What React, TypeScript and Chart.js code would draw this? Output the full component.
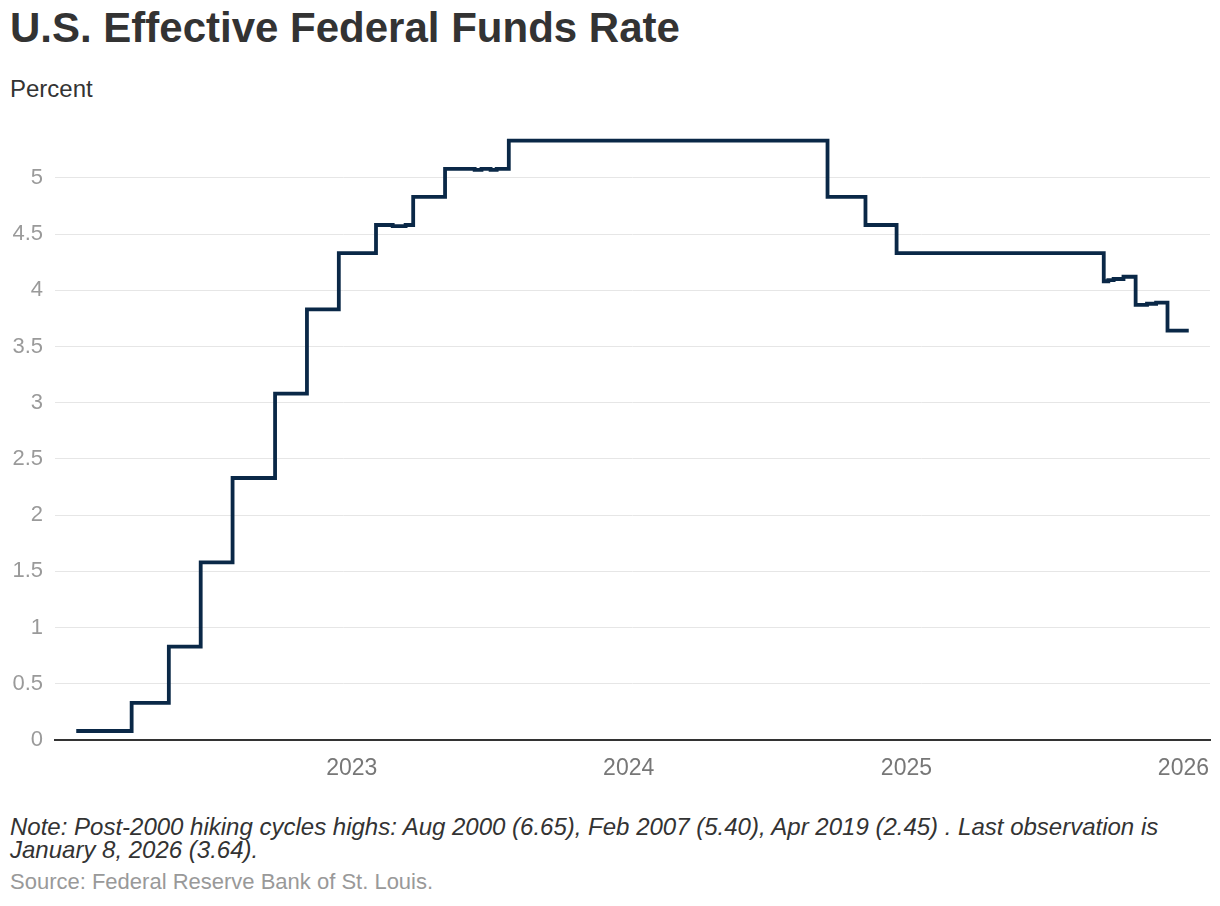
import React, { useEffect, useRef } from "react";
import { Chart, registerables } from "chart.js";

Chart.register(...registerables);

// Dates where the effective rate changed (value holds until next date)
const changeDates = [
  "2022-01-03", "2022-03-17", "2022-05-05", "2022-06-16", "2022-07-28",
  "2022-09-22", "2022-11-03", "2022-12-15", "2023-02-02", "2023-02-24",
  "2023-03-13", "2023-03-23", "2023-05-04", "2023-06-12", "2023-06-21",
  "2023-07-03", "2023-07-11", "2023-07-27", "2024-09-19", "2024-11-08",
  "2024-12-19", "2025-09-18", "2025-09-24", "2025-10-01", "2025-10-14",
  "2025-10-30", "2025-11-14", "2025-11-26", "2025-12-11", "2026-01-08",
];
const rateValues = [
  0.08, 0.33, 0.83, 1.58, 2.33,
  3.08, 3.83, 4.33, 4.58, 4.57,
  4.58, 4.83, 5.08, 5.07, 5.08,
  5.07, 5.08, 5.33, 4.83, 4.58,
  4.33, 4.08, 4.09, 4.1, 4.12,
  3.87, 3.88, 3.89, 3.64, 3.64,
];
const yearTickLabels = ["2023", "2024", "2025", "2026"];
const yTickValues = [0, 0.5, 1, 1.5, 2, 2.5, 3, 3.5, 4, 4.5, 5];

const X_MIN = Date.parse("2021-12-06");
const X_MAX = Date.parse("2026-02-05");
const FONT = "'Liberation Sans', Arial, Helvetica, sans-serif";

export default function App() {
  const canvasRef = useRef<HTMLCanvasElement | null>(null);

  useEffect(() => {
    if (!canvasRef.current) return;
    const points = changeDates.map((d, i) => ({ x: Date.parse(d), y: rateValues[i] }));
    const chart = new Chart(canvasRef.current, {
      type: "line",
      data: {
        datasets: [
          {
            data: points,
            stepped: "before",
            borderColor: "#0a2847",
            borderWidth: 3.8,
            borderJoinStyle: "miter",
            pointRadius: 0,
            pointHoverRadius: 0,
            fill: false,
            tension: 0,
          },
        ],
      },
      options: {
        animation: false,
        responsive: true,
        maintainAspectRatio: false,
        layout: { padding: { top: 6, right: 10, left: 0, bottom: 0 } },
        plugins: {
          legend: { display: false },
          tooltip: { enabled: false },
          title: { display: false },
        },
        scales: {
          x: {
            type: "linear",
            min: X_MIN,
            max: X_MAX,
            grid: { display: false, drawTicks: false },
            border: { display: true, color: "#333333", width: 2 },
            ticks: {
              color: "#777777",
              font: { size: 23, family: FONT },
              padding: 15,
              autoSkip: false,
              maxRotation: 0,
              minRotation: 0,
              callback: (v: any) => String(new Date(Number(v)).getUTCFullYear()),
            },
            afterBuildTicks: (s: any) => {
              s.ticks = yearTickLabels.map((y) => ({ value: Date.parse(y + "-01-01") }));
            },
            afterFit: (s: any) => {
              s.height = 50;
              s.paddingLeft = 0;
              s.paddingRight = 0;
            },
          },
          y: {
            min: 0,
            max: 5.45,
            grid: { color: "#e6e6e6", lineWidth: 1, drawTicks: false },
            border: { display: false },
            ticks: {
              color: "#9a9a9a",
              font: { size: 22, family: FONT },
              padding: 12,
              callback: (v: any) => String(v),
            },
            afterBuildTicks: (s: any) => {
              s.ticks = yTickValues.map((v) => ({ value: v }));
            },
            afterFit: (s: any) => {
              s.width = 55;
            },
          },
        },
      },
    });
    return () => chart.destroy();
  }, []);

  return (
    <div
      style={{
        position: "absolute",
        left: 0,
        top: 0,
        width: 1220,
        height: 906,
        background: "#ffffff",
        fontFamily: FONT,
        overflow: "hidden",
      }}
    >
      <div
        style={{
          position: "absolute",
          left: 10,
          top: 7,
          fontSize: 42,
          lineHeight: "42px",
          fontWeight: "bold",
          color: "#333333",
          whiteSpace: "nowrap",
        }}
      >
        U.S. Effective Federal Funds Rate
      </div>
      <div
        style={{
          position: "absolute",
          left: 10,
          top: 77,
          fontSize: 24,
          lineHeight: "24px",
          color: "#333333",
        }}
      >
        Percent
      </div>
      <div style={{ position: "absolute", left: 0, top: 102, width: 1220, height: 688 }}>
        <canvas ref={canvasRef} />
      </div>
      <div
        style={{
          position: "absolute",
          left: 10,
          top: 815,
          width: 1200,
          fontSize: 24,
          lineHeight: "23px",
          fontStyle: "italic",
          color: "#333333",
          whiteSpace: "nowrap",
        }}
      >
        Note: Post-2000 hiking cycles highs: Aug 2000 (6.65), Feb 2007 (5.40), Apr 2019 (2.45) . Last observation is
        <br />
        January 8, 2026 (3.64).
      </div>
      <div
        style={{
          position: "absolute",
          left: 10,
          top: 871,
          fontSize: 22,
          lineHeight: "22px",
          color: "#999999",
        }}
      >
        Source: Federal Reserve Bank of St. Louis.
      </div>
    </div>
  );
}
